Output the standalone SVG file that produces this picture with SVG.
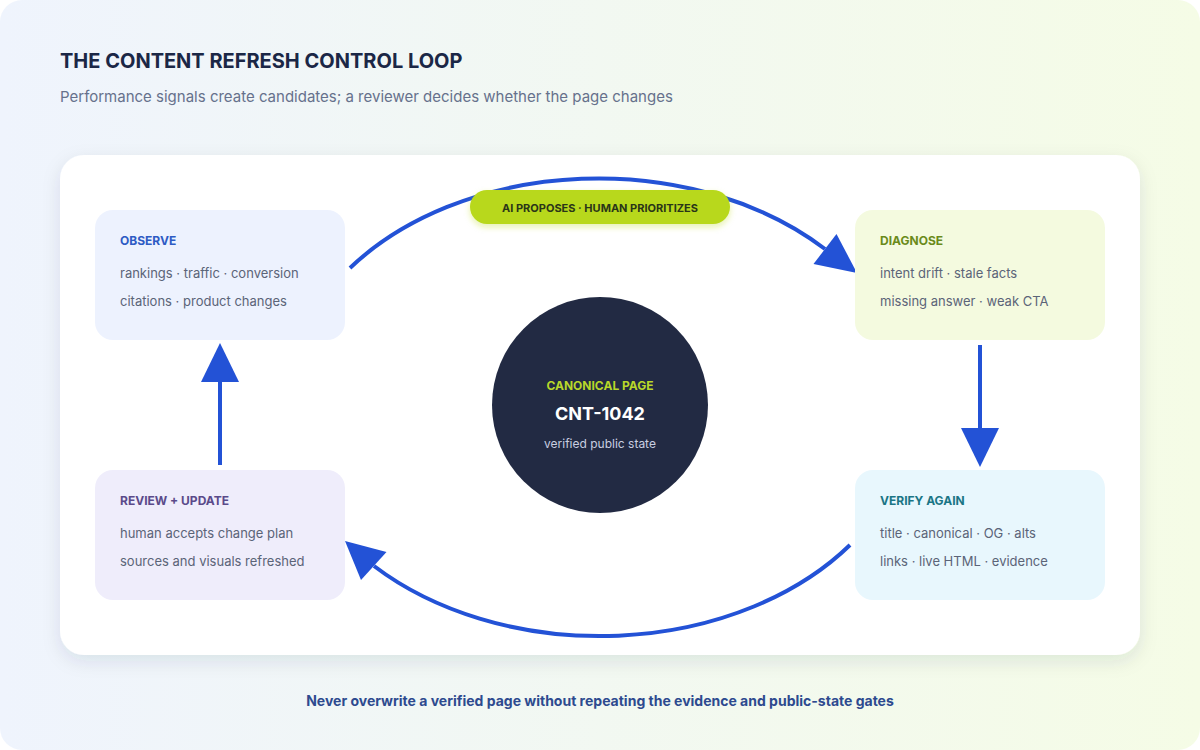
<svg xmlns="http://www.w3.org/2000/svg" width="1200" height="750" viewBox="0 0 1200 750">
<defs>
<linearGradient id="bg" x1="0" y1="0" x2="1" y2="0">
<stop offset="0" stop-color="#eff4fd"/>
<stop offset="1" stop-color="#f5fce6"/>
</linearGradient>
<filter id="sh" x="-10%" y="-10%" width="120%" height="130%">
<feDropShadow dx="0" dy="6" stdDeviation="9" flood-color="#1e2a4a" flood-opacity="0.10"/>
</filter>
<filter id="psh" x="-10%" y="-30%" width="120%" height="180%">
<feDropShadow dx="0" dy="3" stdDeviation="3" flood-color="#b8d81e" flood-opacity="0.35"/>
</filter>
<style>
text{font-family:Inter,"Noto Sans","Liberation Sans",sans-serif}
.title{font-size:20px;font-weight:700;fill:#1b2746}
.sub{font-size:15px;fill:#66718c}
.nt{font-size:12px;font-weight:700}
.nl{font-size:13px;fill:#5b6478}
.conn{fill:none;stroke:#2352d6;stroke-width:4}
.head{fill:#2352d6}
</style>
</defs>
<rect width="1200" height="750" fill="#ffffff"/>
<rect width="1200" height="750" rx="22" fill="url(#bg)"/>
<text class="title" x="60" y="68">THE CONTENT REFRESH CONTROL LOOP</text>
<text class="sub" x="60" y="102">Performance signals create candidates; a reviewer decides whether the page changes</text>
<rect x="60" y="155" width="1080" height="500" rx="24" fill="#ffffff" filter="url(#sh)"/>
<g id="connectors">
<path class="conn" d="M350,268 A313,228 0 0 1 825,249"/>
<polygon class="head" points="857,273 813.5,264 836.5,234"/>
<path class="conn" d="M980,345 L980,430"/>
<polygon class="head" points="961,428 999,428 980,467"/>
<path class="conn" d="M850,545 A313,228 0 0 1 374,566"/>
<polygon class="head" points="345,541 386.5,552 361,580"/>
<path class="conn" d="M220,465 L220,380"/>
<polygon class="head" points="201,382 239,382 220,343"/>
</g>
<g id="pill">
<rect x="470" y="190" width="260" height="34" rx="17" fill="#b8d81e" filter="url(#psh)"/>
<text x="600" y="212" text-anchor="middle" font-size="11" font-weight="700" fill="#2a3518">AI PROPOSES · HUMAN PRIORITIZES</text>
</g>
<g id="observe">
<rect x="95" y="210" width="250" height="130" rx="18" fill="#edf2fe"/>
<text class="nt" x="120" y="245" fill="#2d5bc4">OBSERVE</text>
<text class="nl" x="120" y="278">rankings · traffic · conversion</text>
<text class="nl" x="120" y="306">citations · product changes</text>
</g>
<g id="diagnose">
<rect x="855" y="210" width="250" height="130" rx="18" fill="#f4fadf"/>
<text class="nt" x="880" y="245" fill="#6a8a1a">DIAGNOSE</text>
<text class="nl" x="880" y="278">intent drift · stale facts</text>
<text class="nl" x="880" y="306">missing answer · weak CTA</text>
</g>
<g id="verify">
<rect x="855" y="470" width="250" height="130" rx="18" fill="#e8f7fd"/>
<text class="nt" x="880" y="505" fill="#1a7585">VERIFY AGAIN</text>
<text class="nl" x="880" y="538">title · canonical · OG · alts</text>
<text class="nl" x="880" y="566">links · live HTML · evidence</text>
</g>
<g id="review">
<rect x="95" y="470" width="250" height="130" rx="18" fill="#efedfb"/>
<text class="nt" x="120" y="505" fill="#5a4a8a">REVIEW + UPDATE</text>
<text class="nl" x="120" y="538">human accepts change plan</text>
<text class="nl" x="120" y="566">sources and visuals refreshed</text>
</g>
<g id="canonical">
<circle cx="600" cy="405" r="108" fill="#222a43"/>
<text x="600" y="390" text-anchor="middle" font-size="12" font-weight="700" fill="#b8d82a">CANONICAL PAGE</text>
<text x="600" y="420" text-anchor="middle" font-size="18" font-weight="700" fill="#ffffff">CNT-1042</text>
<text x="600" y="448" text-anchor="middle" font-size="12" fill="#c8cee0">verified public state</text>
</g>
<text x="600" y="706" text-anchor="middle" font-size="14" font-weight="700" fill="#2d4a8f">Never overwrite a verified page without repeating the evidence and public-state gates</text>
</svg>
